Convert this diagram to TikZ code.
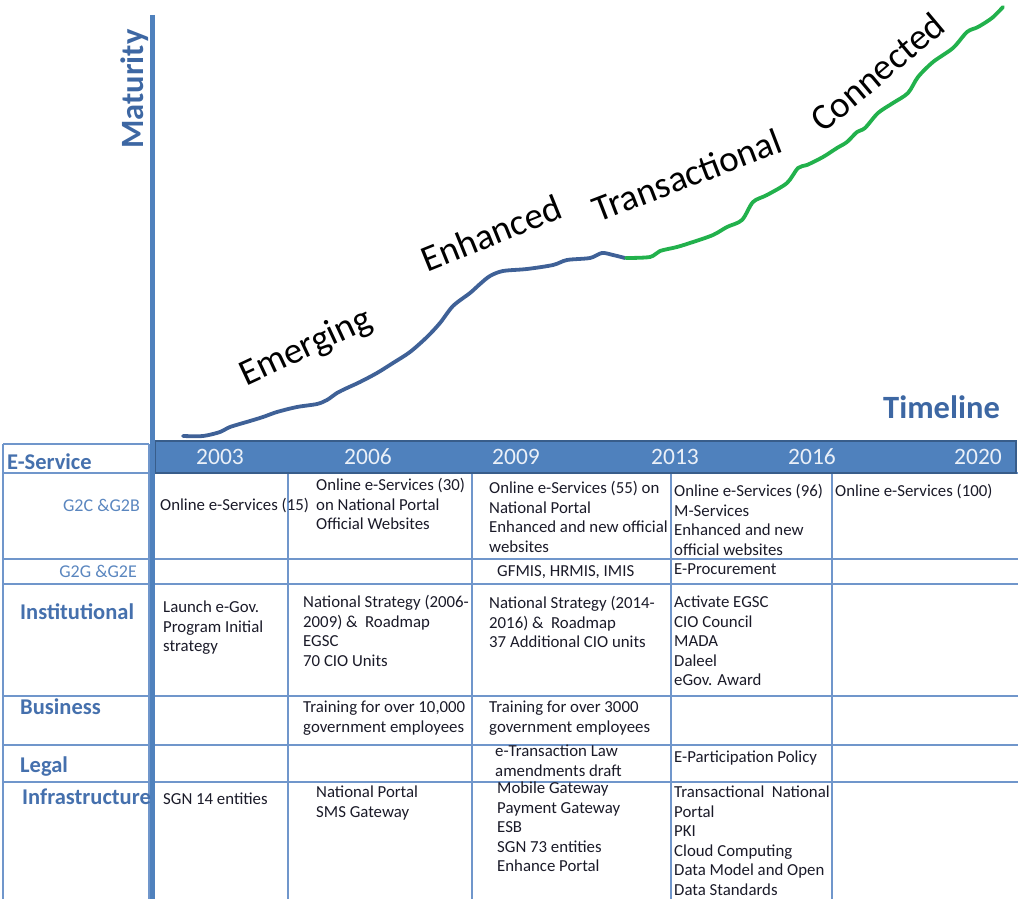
\documentclass[tikz,border=0pt]{standalone}
\usepackage{fontspec}
\setmainfont{Carlito}
\definecolor{axisblue}{HTML}{4F81BD}
\definecolor{barborder}{HTML}{385D8A}
\definecolor{gridblue}{HTML}{7096CB}
\definecolor{labelblue}{HTML}{4570AD}
\definecolor{sublabblue}{HTML}{5A86BF}
\definecolor{titleblue}{HTML}{3D67A3}
\definecolor{curveblue}{HTML}{3F6197}
\definecolor{curvegreen}{HTML}{22B14C}
\definecolor{cellink}{HTML}{1A1A28}
\definecolor{yearink}{HTML}{EAF0F8}
\begin{document}
\begin{tikzpicture}[x=1pt,y=-1pt,
  cell/.style={anchor=north west, inner sep=0pt, align=left, text=cellink, font=\fontsize{16.8}{19.5}\selectfont, yshift=8.25pt},
  rowlab/.style={anchor=base west, inner sep=0pt, text=labelblue, font=\fontsize{22.5}{26}\selectfont\bfseries},
  sublab/.style={anchor=base east, inner sep=0pt, text=sublabblue, font=\fontsize{18}{22}\selectfont},
  yearlab/.style={anchor=base, inner sep=0pt, text=yearink, font=\fontsize{23.5}{27}\selectfont},
  stage/.style={inner sep=0pt, text=black, font=\fontsize{37}{42}\selectfont},
  axtitle/.style={inner sep=0pt, text=titleblue, font=\fontsize{32.5}{38}\selectfont\bfseries},
  gridline/.style={draw=gridblue, line width=1.6pt},
  curve/.style={line width=3.8pt, line cap=round, line join=round},
]
\useasboundingbox (0,0) rectangle (1018,899);

% maturity curve
\draw[curve, curveblue] plot[smooth, tension=0.5] coordinates {
 (183,436) (203,436) (220,432) (230,427) (250,421) (263,417) (277,412) (297,407)
 (317,404) (327,400) (337,393) (347,388) (360,382) (377,373) (393,363) (410,352)
 (427,337) (440,323) (453,306) (470,293) (480,284) (490,276) (503,271) (527,269)
 (553,265) (567,260) (590,258) (602,253) (613,255) (625,258)};
\draw[curve, curvegreen] plot[smooth, tension=0.5] coordinates {
 (626,258) (650,257) (660,251) (677,247) (693,242) (713,235) (727,227) (742,220)
 (753,202) (767,195) (787,183) (798,168) (807,165) (823,157) (837,148) (847,142)
 (857,132) (865,128) (878,113) (893,103) (908,93) (918,77) (933,62) (953,48)
 (967,32) (978,27) (992,18) (1003,7)};

% stage labels
\node[stage, rotate=25] (emerging) at (306,348) {Emerging};
\node[stage, rotate=22] (enhanced) at (491,233) {Enhanced};
\node[stage, rotate=21] (transactional) at (687,175) {Transactional};
\node[stage, rotate=40] (connected) at (877,72) {Connected};

% axis titles
\node[axtitle, rotate=90, anchor=base] (maturity) at (143,89) {Maturity};
\node[axtitle, anchor=base west] (timeline) at (883,418.5) {Timeline};

% table grid
\draw[gridline] (3,444) -- (149,444);
\foreach \yy in {473,559,584,696,745,782} { \draw[gridline] (3,\yy) -- (1018,\yy); }
\draw[gridline] (3,444) -- (3,899);
\draw[gridline] (149,444) -- (149,899);
\foreach \xx in {288,472,671,832} { \draw[gridline] (\xx,473) -- (\xx,899); }

% header bar
\draw[fill=axisblue, draw=barborder, line width=1.6pt] (155,441) rectangle (1016,473);

% vertical axis
\draw[axisblue, line width=5pt] (152.5,15) -- (152.5,899);

% years
\node[yearlab] (y2003) at (220,464.5) {2003};
\node[yearlab] (y2006) at (368,464.5) {2006};
\node[yearlab] (y2009) at (516,464.5) {2009};
\node[yearlab] (y2013) at (675,464.5) {2013};
\node[yearlab] (y2016) at (812,464.5) {2016};
\node[yearlab] (y2020) at (978,464.5) {2020};

% row labels
\node[rowlab] (eservice) at (7,469) {E-Service};
\node[sublab] (g2c) at (140,511) {G2C \&G2B};
\node[sublab] (g2g) at (137,577) {G2G \&G2E};
\node[rowlab] (institutional) at (20,619) {Institutional};
\node[rowlab] (business) at (20,714) {Business};
\node[rowlab] (legal) at (20,772) {Legal};
\node[rowlab] (infrastructure) at (22,804) {Infrastructure};

% 2003
\node[cell] (c03a) at (160,505) {\strut Online e-Services (15)};
\node[cell] (c03b) at (163,607) {\strut Launch e-Gov.\\Program Initial\\strategy};
\node[cell] (c03c) at (163,799) {\strut SGN 14 entities};

% 2006
\node[cell] (c06a) at (316,485) {\strut Online e-Services (30)\\on National Portal\\Official Websites};
\node[cell] (c06b) at (303,602) {\strut National Strategy (2006-\\2009) \&\ \ Roadmap\\EGSC\\70 CIO Units};
\node[cell] (c06c) at (303,707) {\strut Training for over 10,000\\government employees};
\node[cell] (c06d) at (316,792) {\strut National Portal\\SMS Gateway};

% 2009
\node[cell] (c09a) at (489,488) {\strut Online e-Services (55) on\\National Portal\\Enhanced and new official\\websites};
\node[cell] (c09b) at (497,571) {\strut GFMIS, HRMIS, IMIS};
\node[cell] (c09c) at (489,603) {\strut National Strategy (2014-\\2016) \&\ \ Roadmap\\37 Additional CIO units};
\node[cell] (c09d) at (489,707) {\strut Training for over 3000\\government employees};
\node[cell] (c09e) at (495,751) {\strut e-Transaction Law\\amendments draft};
\node[cell] (c09f) at (497,788) {\strut Mobile Gateway\\Payment Gateway\\ESB\\SGN 73 entities\\Enhance Portal};

% 2013
\node[cell] (c13a) at (674,491) {\strut Online e-Services (96)\\M-Services\\Enhanced and new\\official websites};
\node[cell] (c13b) at (674,569) {\strut E-Procurement};
\node[cell] (c13c) at (674,602) {\strut Activate EGSC\\CIO Council\\MADA\\Daleel\\eGov. Award};
\node[cell] (c13d) at (674,757) {\strut E-Participation Policy};
\node[cell] (c13e) at (674,792) {\strut Transactional\ \ National\\Portal\\PKI\\Cloud Computing\\Data Model and Open\\Data Standards};

% 2016-2020
\node[cell] (c16a) at (835,491) {\strut Online e-Services (100)};
\end{tikzpicture}
\end{document}
